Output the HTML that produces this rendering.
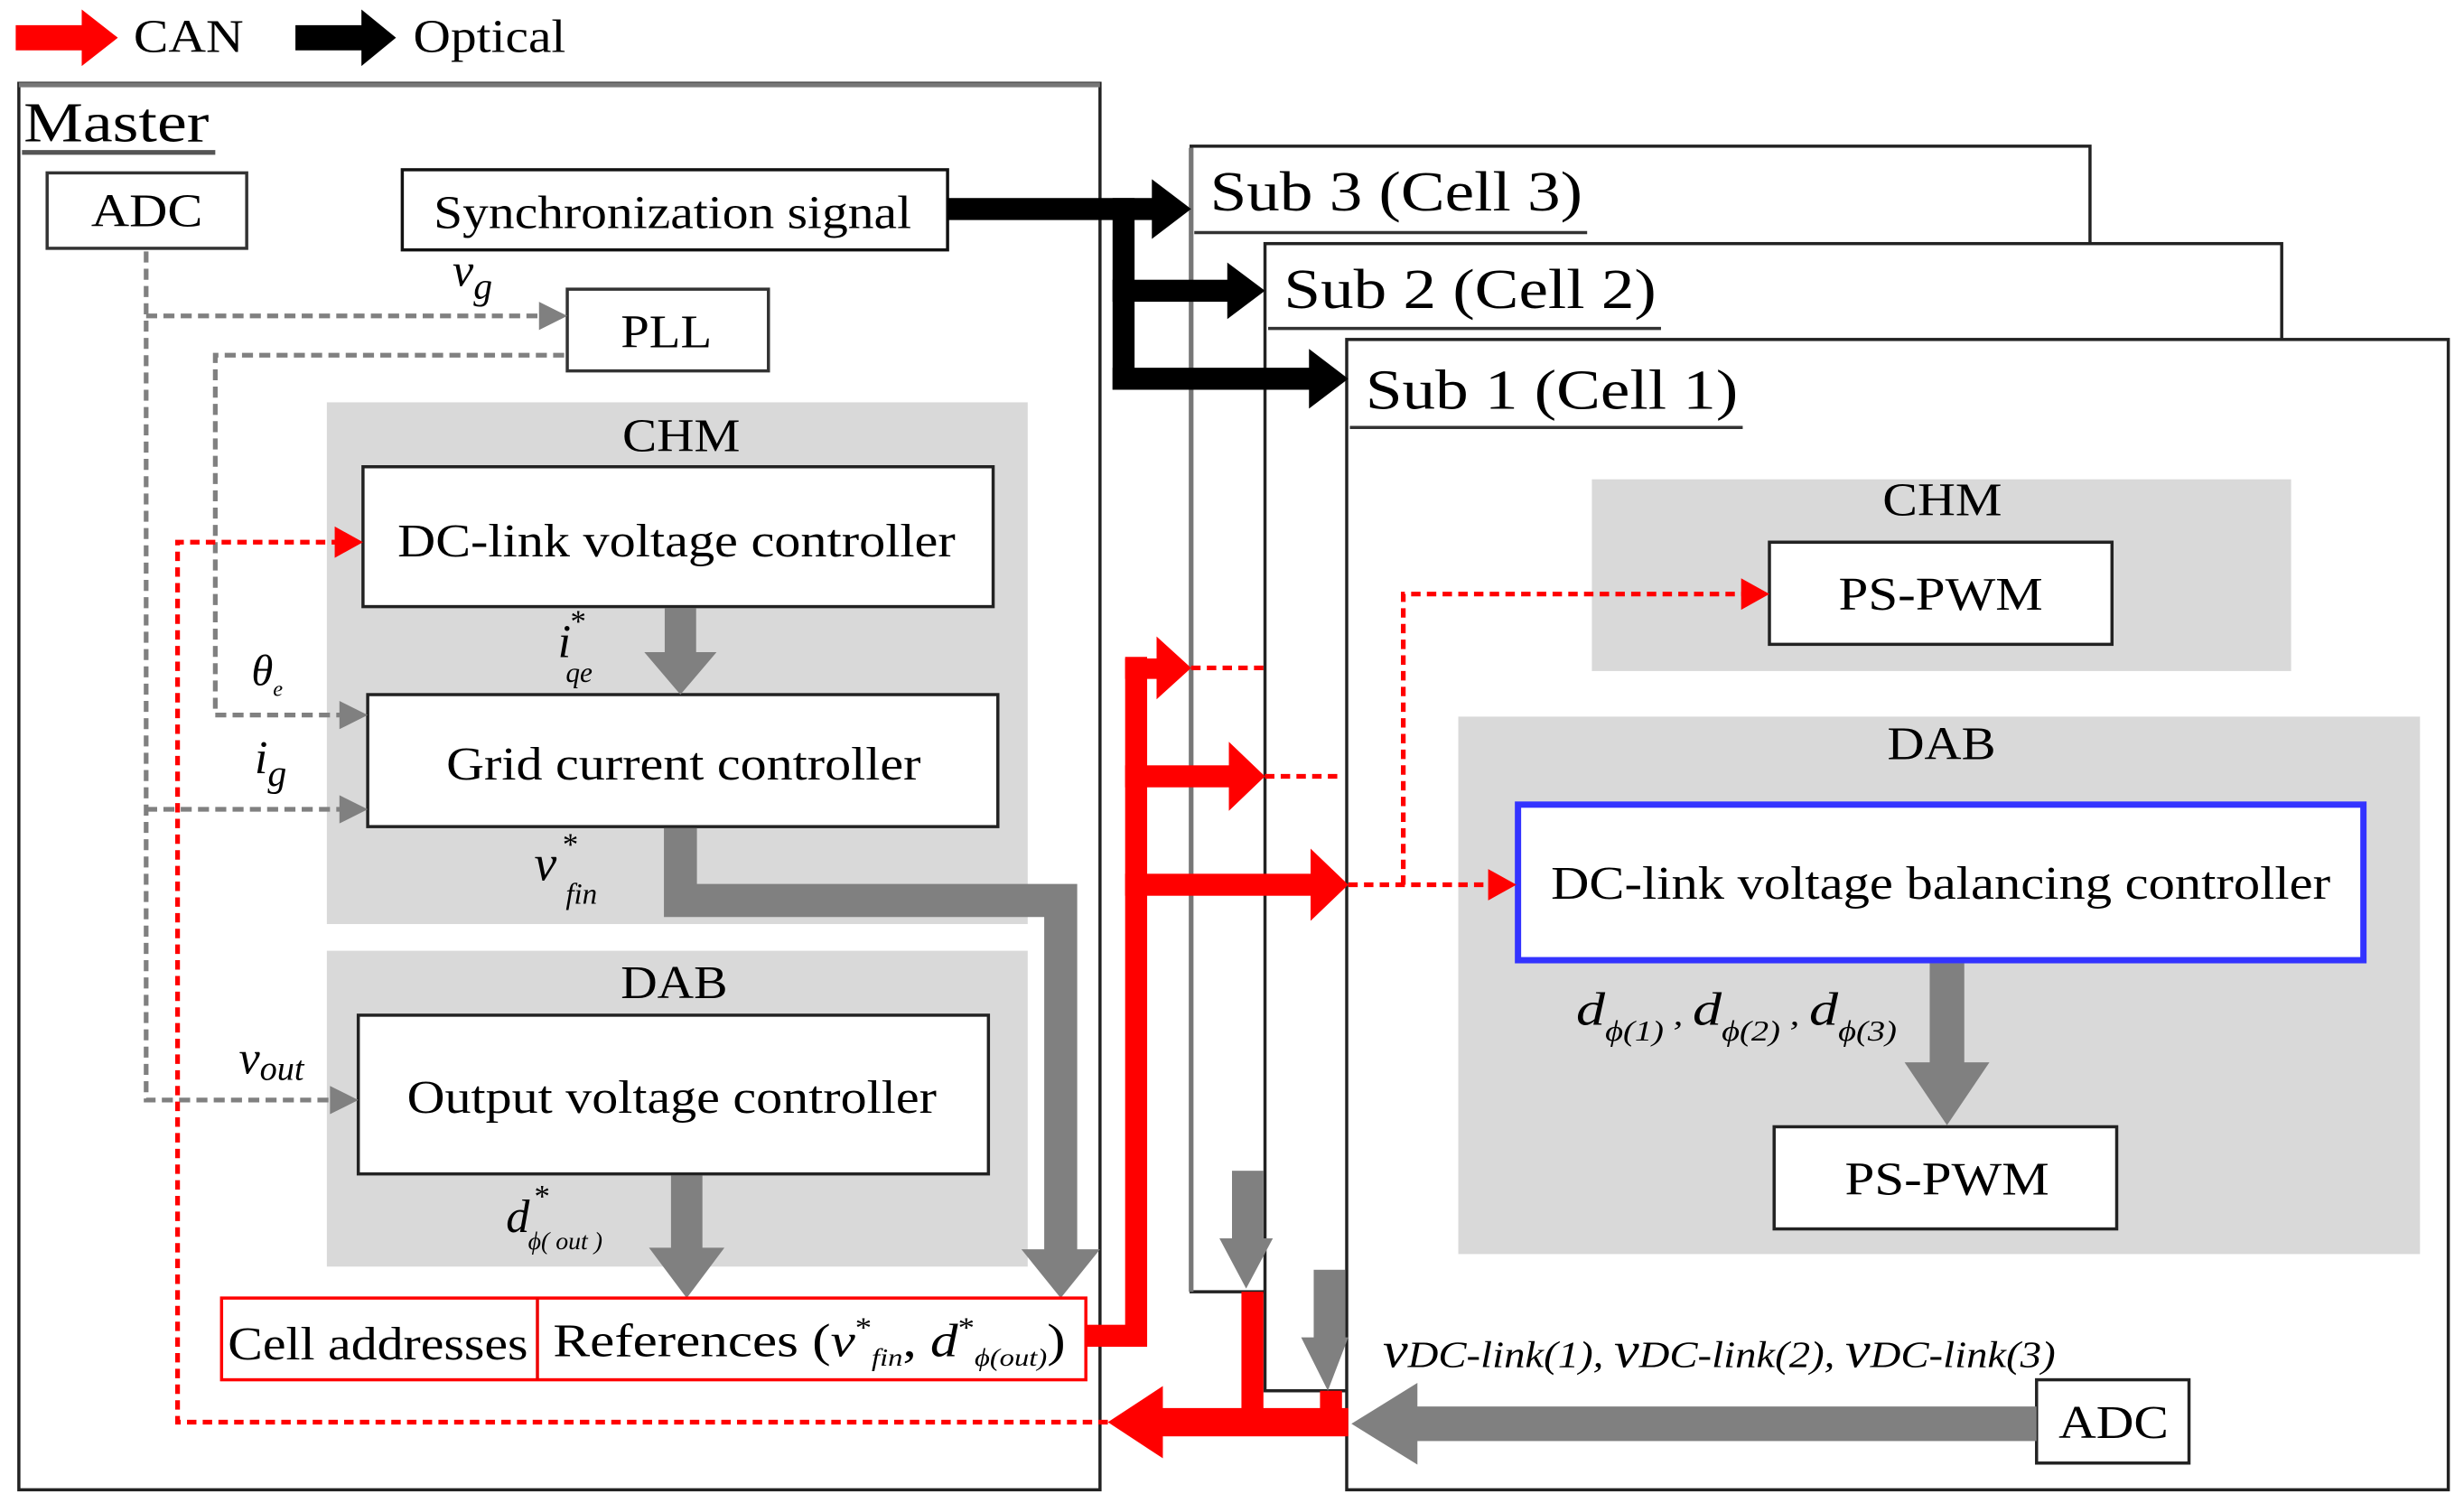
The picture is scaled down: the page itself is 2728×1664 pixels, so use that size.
<!DOCTYPE html>
<html><head><meta charset="utf-8"><style>
html,body{margin:0;padding:0;background:#fff}
svg{display:block}
text{font-family:"Liberation Serif",serif;fill:#000}
.i{font-style:italic}
</style></head><body>
<svg width="2728" height="1664" viewBox="0 0 1568 956.4" xmlns="http://www.w3.org/2000/svg">
<!-- Legend -->
<polygon points="10,16 52,16 52,6 75,24 52,42 52,32 10,32" fill="#f00"/>
<text x="85" y="33" font-size="30" textLength="70" lengthAdjust="spacingAndGlyphs">CAN</text>
<polygon points="188,16 230,16 230,6 252,24 230,42 230,32 188,32" fill="#000"/>
<text x="263" y="33" font-size="30" textLength="97" lengthAdjust="spacingAndGlyphs">Optical</text>

<!-- Master -->
<rect x="12" y="53" width="688" height="895" fill="none" stroke="#222" stroke-width="2"/>
<line x1="12" y1="54" x2="700" y2="54" stroke="#777" stroke-width="3"/>
<text x="15" y="90" font-size="36" textLength="118" lengthAdjust="spacingAndGlyphs">Master</text>
<line x1="14" y1="97" x2="137" y2="97" stroke="#555" stroke-width="3"/>

<!-- gray bands -->
<rect x="208" y="256" width="446" height="332" fill="#d9d9d9"/>
<rect x="208" y="605" width="446" height="201" fill="#d9d9d9"/>
<text x="396" y="287" font-size="30" textLength="75" lengthAdjust="spacingAndGlyphs">CHM</text>
<text x="395" y="635" font-size="30" textLength="68" lengthAdjust="spacingAndGlyphs">DAB</text>

<!-- Sub boxes -->
<rect x="758" y="93" width="572" height="729" fill="#fff" stroke="#222" stroke-width="2"/>
<line x1="758" y1="94" x2="758" y2="822" stroke="#777" stroke-width="3"/>
<text x="770" y="134" font-size="36" textLength="237" lengthAdjust="spacingAndGlyphs">Sub 3 (Cell 3)</text>
<line x1="760" y1="148" x2="1010" y2="148" stroke="#333" stroke-width="2"/>
<rect x="805" y="155" width="647" height="730" fill="#fff" stroke="#222" stroke-width="2"/>
<text x="817" y="196" font-size="36" textLength="237" lengthAdjust="spacingAndGlyphs">Sub 2 (Cell 2)</text>
<line x1="807" y1="209" x2="1057" y2="209" stroke="#333" stroke-width="2"/>
<rect x="857" y="216" width="701" height="732" fill="#fff" stroke="#222" stroke-width="2"/>
<text x="869" y="260" font-size="36" textLength="237" lengthAdjust="spacingAndGlyphs">Sub 1 (Cell 1)</text>
<line x1="859" y1="272" x2="1109" y2="272" stroke="#333" stroke-width="2"/>

<!-- Sub1 content -->
<rect x="1013" y="305" width="445" height="122" fill="#d9d9d9"/>
<text x="1198" y="328" font-size="30" textLength="76" lengthAdjust="spacingAndGlyphs">CHM</text>
<rect x="1126" y="345" width="218" height="65" fill="#fff" stroke="#222" stroke-width="2"/>
<text x="1170" y="388" font-size="30" textLength="130" lengthAdjust="spacingAndGlyphs">PS-PWM</text>
<rect x="928" y="456" width="612" height="342" fill="#d9d9d9"/>
<text x="1201" y="483" font-size="30" textLength="69" lengthAdjust="spacingAndGlyphs">DAB</text>
<rect x="966" y="512" width="538" height="99" fill="#fff" stroke="#33f" stroke-width="4"/>
<text x="987" y="572" font-size="30" textLength="496" lengthAdjust="spacingAndGlyphs">DC-link voltage balancing controller</text>
<rect x="1228" y="613" width="22" height="65" fill="#808080"/>
<polygon points="1212,676 1266,676 1239,716" fill="#808080"/>
<text x="1003" y="652" font-size="30" class="i" textLength="204" lengthAdjust="spacingAndGlyphs">d<tspan font-size="18" dy="10">ϕ(1)</tspan><tspan dy="-10" font-size="20"> , </tspan>d<tspan font-size="18" dy="10">ϕ(2)</tspan><tspan dy="-10" font-size="20"> , </tspan>d<tspan font-size="18" dy="10">ϕ(3)</tspan></text>
<rect x="1129" y="717" width="218" height="65" fill="#fff" stroke="#222" stroke-width="2"/>
<text x="1174" y="760" font-size="30" textLength="130" lengthAdjust="spacingAndGlyphs">PS-PWM</text>
<rect x="1296" y="878" width="97" height="53" fill="#fff" stroke="#222" stroke-width="2"/>
<text x="1310" y="915" font-size="30" textLength="70" lengthAdjust="spacingAndGlyphs">ADC</text>
<text x="880" y="870" font-size="32" class="i" textLength="428" lengthAdjust="spacingAndGlyphs">v<tspan font-size="24">DC-link(1), </tspan>v<tspan font-size="24">DC-link(2), </tspan>v<tspan font-size="24">DC-link(3)</tspan></text>
<rect x="900" y="895" width="396" height="22" fill="#808080"/>
<polygon points="902,880 902,932 860,906" fill="#808080"/>

<!-- gray arrows in sub3/sub2 -->
<rect x="784" y="745" width="20" height="45" fill="#808080"/>
<polygon points="776,788 810,788 793,820" fill="#808080"/>
<rect x="836" y="808" width="20" height="45" fill="#808080"/>
<polygon points="828,851 858,851 845,885" fill="#808080"/>

<!-- Master boxes -->
<rect x="30" y="110" width="127" height="48" fill="#fff" stroke="#333" stroke-width="2"/>
<text x="58" y="144" font-size="30" textLength="71" lengthAdjust="spacingAndGlyphs">ADC</text>
<rect x="256" y="108" width="347" height="51" fill="#fff" stroke="#111" stroke-width="2"/>
<text x="276" y="145" font-size="30" textLength="304" lengthAdjust="spacingAndGlyphs">Synchronization signal</text>
<rect x="361" y="184" width="128" height="52" fill="#fff" stroke="#333" stroke-width="2"/>
<text x="395" y="221" font-size="30" textLength="58" lengthAdjust="spacingAndGlyphs">PLL</text>
<rect x="231" y="297" width="401" height="89" fill="#fff" stroke="#222" stroke-width="2"/>
<text x="253" y="354" font-size="30" textLength="355" lengthAdjust="spacingAndGlyphs">DC-link voltage controller</text>
<rect x="234" y="442" width="401" height="84" fill="#fff" stroke="#222" stroke-width="2"/>
<text x="284" y="496" font-size="30" textLength="302" lengthAdjust="spacingAndGlyphs">Grid current controller</text>
<rect x="228" y="646" width="401" height="101" fill="#fff" stroke="#222" stroke-width="2"/>
<text x="259" y="708" font-size="30" textLength="337" lengthAdjust="spacingAndGlyphs">Output voltage controller</text>

<!-- gray thick arrows master -->
<rect x="423" y="387" width="20" height="30" fill="#808080"/>
<polygon points="410,415 456,415 433,442" fill="#808080"/>
<path d="M433,527 V573 H675 V800" fill="none" stroke="#808080" stroke-width="21"/>
<polygon points="650,795 700,795 675,826" fill="#808080"/>
<rect x="427" y="748" width="20" height="48" fill="#808080"/>
<polygon points="413,794 461,794 437,826" fill="#808080"/>

<!-- labels master -->
<text x="288" y="182" font-size="30" class="i">v<tspan font-size="24" dy="8">g</tspan></text>
<text x="160" y="436" font-size="28" class="i">θ<tspan font-size="14" dy="7">e</tspan></text>
<text x="162" y="492" font-size="30" class="i">i<tspan font-size="24" dy="8">g</tspan></text>
<text x="152" y="683" font-size="30" class="i">v<tspan font-size="22" dy="4">out</tspan></text>
<text x="355" y="418" font-size="30" class="i">i</text><text x="363" y="402" font-size="20">*</text><text x="360" y="434" font-size="18" class="i">qe</text>
<text x="340" y="560" font-size="32" class="i">v</text><text x="358" y="544" font-size="20">*</text><text x="360" y="575" font-size="19" class="i">fin</text>
<text x="322" y="784" font-size="30" class="i">d</text><text x="340" y="768" font-size="20">*</text><text x="336" y="795" font-size="16" class="i">ϕ( out )</text>

<!-- Cell addresses box -->
<rect x="141" y="826" width="550" height="52" fill="#fff" stroke="#f00" stroke-width="2"/>
<line x1="342" y1="826" x2="342" y2="878" stroke="#e00" stroke-width="2"/>
<text x="145" y="865" font-size="30" textLength="191" lengthAdjust="spacingAndGlyphs">Cell addresses</text>
<text x="352" y="863" font-size="30" textLength="326" lengthAdjust="spacingAndGlyphs">References (<tspan class="i">v</tspan><tspan font-size="18" dy="-12">*</tspan><tspan font-size="16" class="i" dy="18">fin</tspan><tspan dy="-6">, </tspan><tspan class="i">d</tspan><tspan font-size="18" dy="-12">*</tspan><tspan font-size="16" class="i" dy="18">ϕ(out)</tspan><tspan dy="-6">)</tspan></text>

<!-- gray dotted lines -->
<g fill="none" stroke="#808080" stroke-width="3" stroke-dasharray="7,4">
<path d="M93,160 V700 H212"/>
<path d="M93,201 H345"/>
<path d="M93,515 H218"/>
<path d="M359,226 H137 V455 H218"/>
</g>
<g fill="#808080">
<polygon points="343,192 361,201 343,210"/>
<polygon points="216,446 234,455 216,464"/>
<polygon points="216,506 234,515 216,524"/>
<polygon points="210,691 228,700 210,709"/>
</g>

<!-- red dotted lines -->
<g fill="none" stroke="#f00" stroke-width="3" stroke-dasharray="6,4">
<path d="M705,905 H113 V345 H214"/>
<path d="M758,425 H805"/>
<path d="M805,494 H852"/>
<path d="M858,563 H948"/>
<path d="M893,563 V378 H1110"/>
</g>
<g fill="#f00">
<polygon points="213,335 231,345 213,355"/>
<polygon points="947,553 965,563 947,573"/>
<polygon points="1108,368 1126,378 1108,388"/>
</g>

<!-- red thick CAN -->
<g fill="#f00">
<rect x="691" y="843" width="38" height="14"/>
<rect x="716" y="418" width="14" height="439"/>
<rect x="716" y="419" width="22" height="13"/>
<polygon points="736,405 758,425 736,445"/>
<rect x="716" y="487" width="68" height="14"/>
<polygon points="782,472 805,494 782,516"/>
<rect x="716" y="556" width="120" height="14"/>
<polygon points="834,540 858,563 834,586"/>
<rect x="790" y="822" width="14" height="80"/>
<rect x="840" y="885" width="14" height="18"/>
<rect x="735" y="896" width="123" height="18"/>
<polygon points="740,882 740,928 705,905"/>
</g>

<!-- optical black -->
<g fill="#000">
<rect x="603" y="126" width="132" height="14"/>
<polygon points="733,114 758,133 733,152"/>
<rect x="708" y="126" width="14" height="122"/>
<rect x="708" y="178" width="75" height="14"/>
<polygon points="781,167 805,185 781,203"/>
<rect x="708" y="234" width="127" height="14"/>
<polygon points="833,222 858,241 833,260"/>
</g>
</svg>
</body></html>
